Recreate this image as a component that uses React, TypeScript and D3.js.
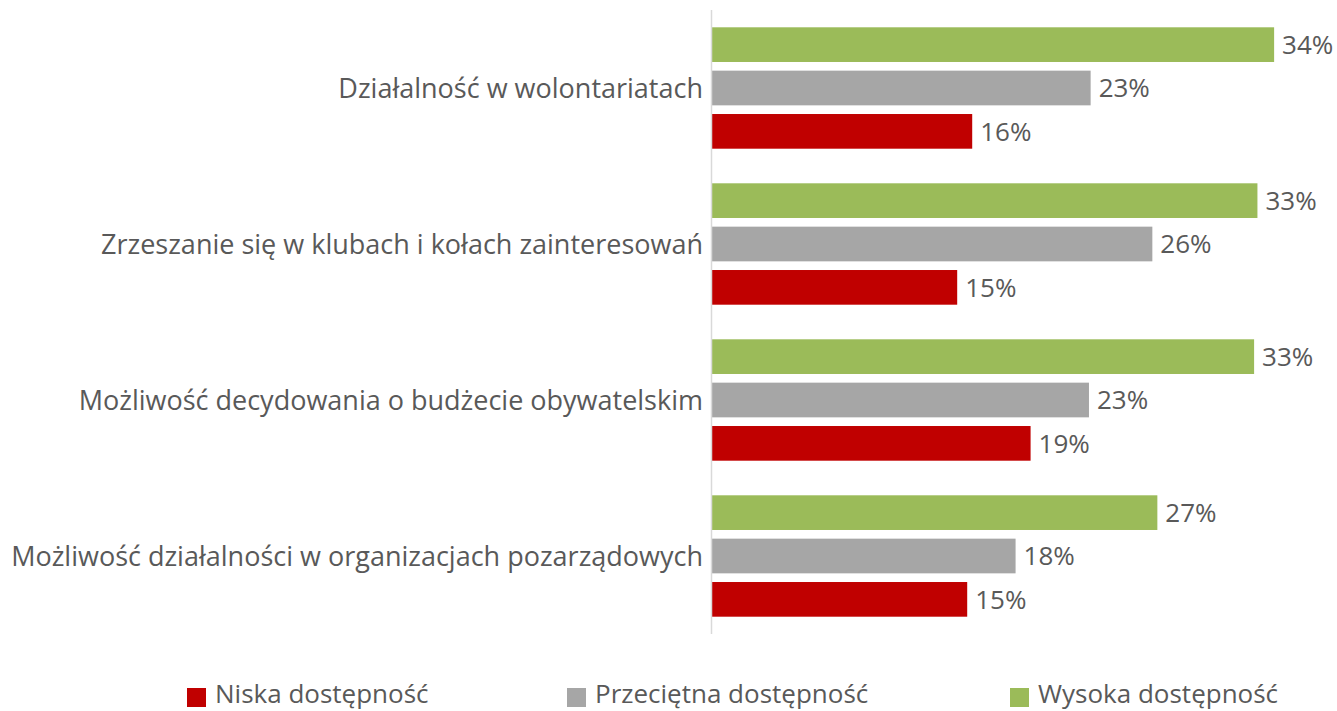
import React from "react";
import * as d3 from "d3";

const categories = [
  "Działalność w wolontariatach",
  "Zrzeszanie się w klubach i kołach zainteresowań",
  "Możliwość decydowania o budżecie obywatelskim",
  "Możliwość działalności w organizacjach pozarządowych",
];
const seriesNames = ["Wysoka dostępność", "Przeciętna dostępność", "Niska dostępność"];
const wysoka = [0.337, 0.327, 0.325, 0.267];
const przecietna = [0.227, 0.264, 0.226, 0.182];
const niska = [0.156, 0.147, 0.191, 0.153];
const legendOrder = ["Niska dostępność", "Przeciętna dostępność", "Wysoka dostępność"];

const colors: Record<string, string> = {
  "Wysoka dostępność": "#9BBB59",
  "Przeciętna dostępność": "#A6A6A6",
  "Niska dostępność": "#C00000",
};

const W = 1337;
const H = 711;
const FONT = "'Open Sans', 'Noto Sans', sans-serif";

export default function App() {
  const values = [wysoka, przecietna, niska];
  const x = d3.scaleLinear().domain([0, 0.35]).range([712, 712 + 0.35 * 1668]);
  const y0 = d3.scaleBand<string>().domain(categories).range([10, 634]).paddingInner(0).paddingOuter(0);
  const y1 = d3
    .scaleBand<string>()
    .domain(seriesNames)
    .range([17.3, 156 - 17.3])
    .paddingInner(0.2);
  const fmt = d3.format(".0%");
  const legendX = [187, 567, 1010];

  return (
    <svg width={W} height={H} style={{ position: "absolute", left: 0, top: 0 }} fontFamily={FONT}>
      <rect width={W} height={H} fill="#fff" />
      {categories.map((c, ci) => (
        <g key={c} transform={`translate(0,${y0(c)})`}>
          {seriesNames.map((s, si) => {
            const v = values[si][ci];
            const by = y1(s)!;
            return (
              <g key={s}>
                <rect x={x(0)} y={by} width={x(v) - x(0)} height={y1.bandwidth()} fill={colors[s]} />
                <text
                  x={x(v) + 8}
                  y={by + y1.bandwidth() / 2}
                  dy="0.36em"
                  fontSize={26}
                  fill="#595959"
                >
                  {fmt(v)}
                </text>
              </g>
            );
          })}
          <text
            x={703}
            y={y1(seriesNames[1])! + y1.bandwidth() / 2}
            dy="0.36em"
            textAnchor="end"
            fontSize={27}
            fill="#595959"
          >
            {c}
          </text>
        </g>
      ))}
      <line x1={711.5} x2={711.5} y1={10} y2={634} stroke="#D9D9D9" strokeWidth={1.5} />
      {legendOrder.map((s, i) => (
        <g key={s} transform={`translate(${legendX[i]},688)`}>
          <rect width={19} height={19} fill={colors[s]} />
          <text x={28} y={15} fontSize={26} fill="#595959">
            {s}
          </text>
        </g>
      ))}
    </svg>
  );
}
